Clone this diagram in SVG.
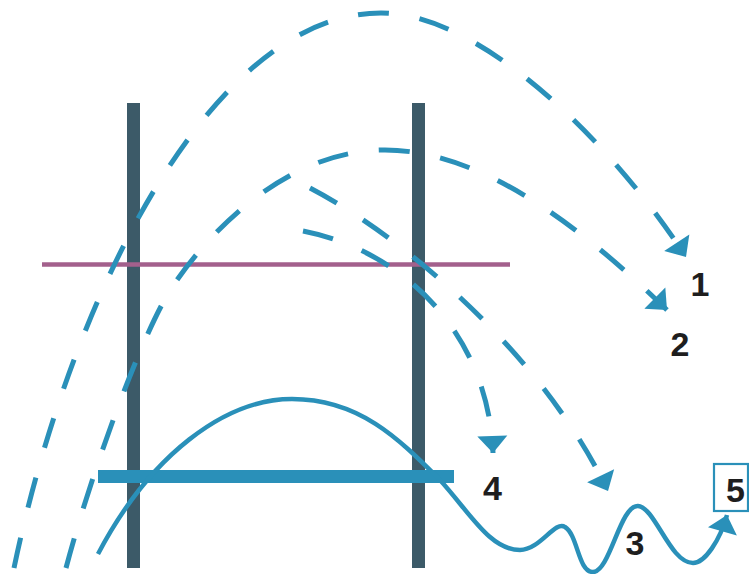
<svg xmlns="http://www.w3.org/2000/svg" width="749" height="574" viewBox="0 0 749 574">
<style>
.post{fill:#3c5a68}
.bar{fill:#2a90b9}
.dash{fill:none;stroke:#2a90b9;stroke-width:5;stroke-dasharray:31 31}
.wave{fill:none;stroke:#2a90b9;stroke-width:4.5}
.lbl{font-family:"Liberation Sans",Arial,sans-serif;font-weight:bold;font-size:34px;fill:#1e1e1e;text-anchor:middle}
</style>
<defs>
<marker id="ah" markerUnits="userSpaceOnUse" markerWidth="20" markerHeight="32" viewBox="0 -16 17 32" refX="17" refY="0" orient="auto">
<path d="M0,-15 L17,0 L0,15 Z" fill="#2a90b9"/>
</marker>
</defs>
<rect width="749" height="574" fill="#ffffff"/>
<g id="post-left"><rect class="post" x="127" y="103" width="13" height="465"/></g>
<g id="post-right"><rect class="post" x="412" y="103" width="13" height="465"/></g>
<g id="line-pink"><line x1="42" y1="264.5" x2="510" y2="264.5" stroke="#a3608c" stroke-width="4.5"/></g>
<g id="bar"><rect class="bar" x="98" y="470" width="356" height="13"/></g>
<g id="connectors">
<path id="path1" class="dash" d="M14,568 C70,300 210,13 381,13 C480,13 610,140 686,257" marker-end="url(#ah)"/>
<path id="path2" class="dash" d="M66,568 C92,470 140,340 169,292 C200,243 280,150 385,150 C480,150 580,225 667,310" marker-end="url(#ah)"/>
<path id="path3" class="dash" d="M310,188 C400,235 540,350 608,491" marker-end="url(#ah)"/>
<path id="path4" class="dash" d="M303,231 C400,250 488,330 493,453" marker-end="url(#ah)"/>
<path id="wave" class="wave" d="M98,554 C150,455 225,399 292,399 C360,399 400,440 440,480 C470,513 490,550 520,550 C540,550 555,520 565,527 C578,535 578,572 593,572 C610,572 620,505 638,506 C655,507 670,563 693,563 C705,563 720,540 727,515" marker-end="url(#ah)"/>
</g>
<g id="label-1"><text class="lbl" x="700" y="296">1</text></g>
<g id="label-2"><text class="lbl" x="680" y="356">2</text></g>
<g id="label-3"><text class="lbl" x="635" y="555">3</text></g>
<g id="label-4"><text class="lbl" x="492.5" y="500">4</text></g>
<g id="label-5"><rect x="714" y="464" width="34" height="47" fill="none" stroke="#2a90b9" stroke-width="2.2"/><text class="lbl" x="735.5" y="502">5</text></g>
</svg>
